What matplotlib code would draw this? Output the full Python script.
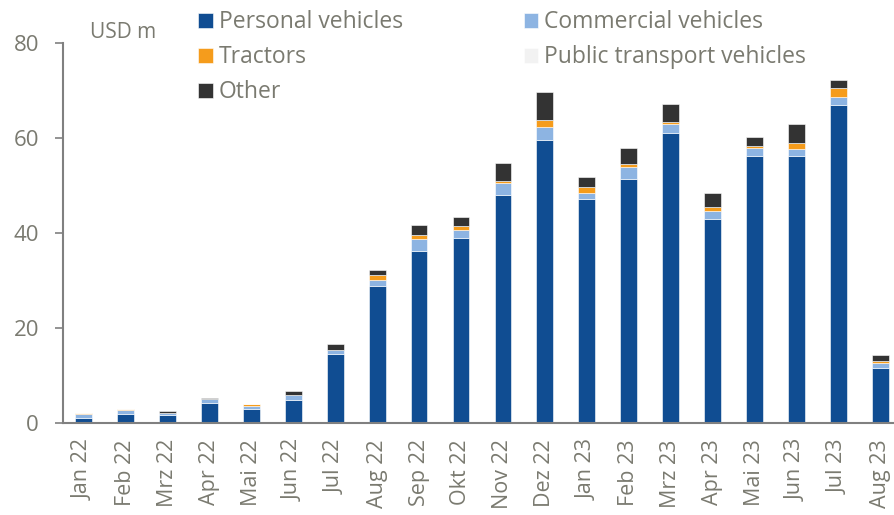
import matplotlib
matplotlib.use("Agg")
import matplotlib.pyplot as plt
import numpy as np

months = ["Jan 22", "Feb 22", "Mrz 22", "Apr 22", "Mai 22", "Jun 22", "Jul 22", "Aug 22",
          "Sep 22", "Okt 22", "Nov 22", "Dez 22", "Jan 23", "Feb 23", "Mrz 23", "Apr 23",
          "Mai 23", "Jun 23", "Jul 23", "Aug 23"]
personal = [0.85, 1.75, 1.55, 4.1, 2.75, 4.65, 14.4, 28.9, 36.2, 38.9, 48.0, 59.5,
            47.2, 51.4, 61.0, 43.0, 56.2, 56.2, 67.0, 11.6]
commercial = [0.9, 0.85, 0.4, 0.8, 0.75, 1.2, 0.8, 1.2, 2.5, 1.7, 2.5, 2.9,
              1.2, 2.5, 2.0, 1.7, 1.8, 1.6, 1.6, 1.0]
tractors = [0.15, 0.2, 0.1, 0.0, 0.3, 0.0, 0.0, 1.0, 0.9, 0.9, 0.5, 1.5,
            1.3, 0.6, 0.4, 0.7, 0.4, 1.2, 2.0, 0.4]
public = [0.0, 0.15, 0.05, 0.0, 0.0, 0.0, 0.0, 0.0, 0.0, 0.0, 0.0, 0.0,
          0.0, 0.0, 0.0, 0.0, 0.0, 0.0, 0.0, 0.0]
other = [0.0, 0.0, 0.3, 0.2, 0.2, 0.9, 1.3, 1.1, 2.1, 1.9, 3.7, 5.9,
         2.1, 3.5, 3.7, 3.0, 1.9, 4.0, 1.7, 1.2]

series = [("Personal vehicles", personal, "#104d92"),
          ("Commercial vehicles", commercial, "#8db4e2"),
          ("Tractors", tractors, "#f59c1c"),
          ("Public transport vehicles", public, "#f2f2f2"),
          ("Other", other, "#333333")]

text_col = "#7a7a70"
plt.rcParams['font.family'] = ['Open Sans', 'DejaVu Sans']

fig = plt.figure(figsize=(8.95, 5.15), dpi=100)
ax = fig.add_axes([0.070, 0.1796, 1.007 - 0.070, 0.916 - 0.1796])

x = np.arange(len(months))
bottom = np.zeros(len(months))
handles = {}
for name, vals, col in series:
    v = np.array(vals)
    b = ax.bar(x, v, 0.4, bottom=bottom, color=col, label=name,
               edgecolor="white", linewidth=0.4)
    handles[name] = b
    bottom += v

ax.set_xlim(-0.5, 19.5)
ax.set_ylim(0, 80)
ax.set_yticks([0, 20, 40, 60, 80])
ax.set_xticks(x)
ax.set_xticklabels(months, rotation=90, fontsize=15.5, color=text_col)
ax.tick_params(axis='x', length=0, pad=12)
ax.tick_params(axis='y', length=6, width=1.2, color="#808080", labelsize=16,
               labelcolor=text_col, pad=11)
for s in ["top", "right"]:
    ax.spines[s].set_visible(False)
for s in ["left", "bottom"]:
    ax.spines[s].set_color("#808080")
    ax.spines[s].set_linewidth(1.5)

fig.text(90 / 895, 1 - 33 / 515, "USD m", fontsize=15, color=text_col, va="center")

order = ["Personal vehicles", "Tractors", "Other", "Commercial vehicles", "Public transport vehicles"]
leg = fig.legend([handles[n] for n in order], order, ncol=2, loc="upper left",
                 bbox_to_anchor=(187 / 895, 1 + 1 / 515), frameon=False, fontsize=16.5,
                 handlelength=0.65, handleheight=0.65, handletextpad=0.25,
                 columnspacing=5.25, labelspacing=0.48, borderpad=0.0, labelcolor=text_col)

fig.savefig("out.png", dpi=100)
